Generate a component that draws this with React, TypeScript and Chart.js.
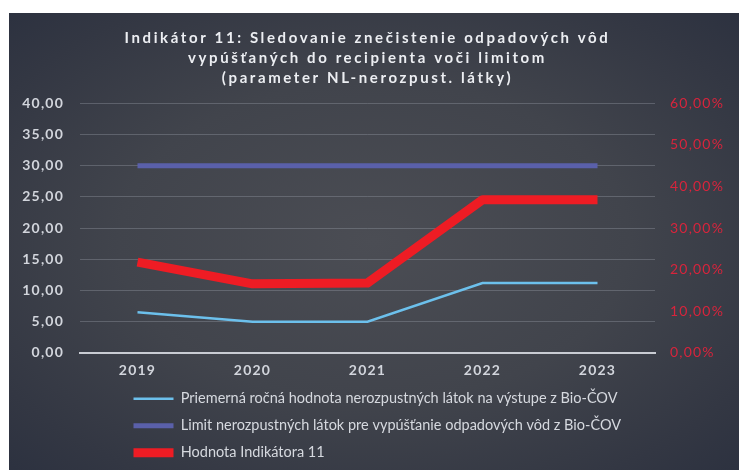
import React, { useEffect, useRef } from "react";
import { Chart, registerables } from "chart.js";

Chart.register(...registerables);

const years = ["2019", "2020", "2021", "2022", "2023"];
const avgValues = [6.5, 5.0, 5.0, 11.2, 11.2];
const limitValues = [30, 30, 30, 30, 30];
const indicatorPct = [21.8, 16.6, 16.8, 36.8, 36.8];

const seriesNames = [
  "Priemerná ročná hodnota nerozpustných látok na výstupe z Bio-ČOV",
  "Limit nerozpustných látok pre vypúšťanie odpadových vôd z Bio-ČOV",
  "Hodnota Indikátora 11",
];
const titleLines = [
  "Indikátor 11: Sledovanie znečistenie odpadových vôd",
  "vypúšťaných do recipienta voči limitom",
  "(parameter NL-nerozpust. látky)",
];

const fmt = (v: number) => v.toFixed(2).replace(".", ",");

const spacingPlugin = {
  id: "spacingPlugin",
  afterLayout(chart: any) {
    if (chart.legend) chart.legend.left = 112;
    if (!chart.$patched) {
      chart.$patched = true;
      const wrap = (box: any, sp: string) => {
        if (!box) return;
        const orig = box.draw.bind(box);
        box.draw = (area: any) => {
          const ctx = chart.ctx;
          const prev = ctx.letterSpacing;
          ctx.letterSpacing = sp;
          orig(area);
          ctx.letterSpacing = prev;
        };
      };
      wrap(chart.titleBlock, "2.6px");
      wrap(chart.legend, "0px");
    }
  },
  beforeDraw(chart: any) {
    chart.ctx.letterSpacing = "1.2px";
  },
  afterDraw(chart: any) {
    chart.ctx.letterSpacing = "0px";
  },
};

export default function App() {
  const ref = useRef<HTMLCanvasElement | null>(null);
  useEffect(() => {
    if (!ref.current) return;
    const chart = new Chart(ref.current, {
      type: "line",
      data: {
        labels: years,
        datasets: [
          {
            label: seriesNames[0],
            data: avgValues,
            borderColor: "#6cc0ec",
            borderWidth: 2.5,
            pointRadius: 0,
            yAxisID: "y",
            order: 1,
          },
          {
            label: seriesNames[1],
            data: limitValues,
            borderColor: "#5a60aa",
            borderWidth: 5,
            pointRadius: 0,
            yAxisID: "y",
            order: 2,
          },
          {
            label: seriesNames[2],
            data: indicatorPct,
            borderColor: "#ee1c24",
            borderWidth: 9,
            borderJoinStyle: "round",
            pointRadius: 0,
            yAxisID: "y1",
            order: 0,
          },
        ],
      },
      options: {
        responsive: false,
        animation: false,
        layout: { padding: 0 },
        plugins: {
          tooltip: { enabled: false },
          title: {
            display: true,
            text: titleLines,
            fullSize: false,
            color: "#eceef2",
            font: { family: "Lato", size: 15, weight: "bold", lineHeight: 1.34 },
            padding: { top: 14.8, bottom: 15.1 },
          },
          legend: {
            display: true,
            position: "bottom",
            align: "start",
            fullSize: false,
            labels: {
              color: "#d6d9df",
              font: { family: "Lato", size: 14.5 },
              padding: 12.5,
              usePointStyle: true,
              pointStyleWidth: 40,
              generateLabels: (c: any) =>
                c.data.datasets.map((ds: any, i: number) => ({
                  text: ds.label,
                  fillStyle: ds.borderColor,
                  strokeStyle: ds.borderColor,
                  lineWidth: ds.borderWidth,
                  pointStyle: "line",
                  fontColor: "#d6d9df",
                  hidden: false,
                  datasetIndex: i,
                })),
            },
          },
        },
        scales: {
          x: {
            offset: true,
            grid: { display: false, drawTicks: false },
            border: { display: true, color: "#c9ccd3", width: 2 },
            ticks: {
              color: "#d2d5dc",
              font: { family: "Lato", size: 14, weight: "bold" },
              padding: 9.5,
            },
            afterFit: (s: any) => {
              s.height = s.height - 9.7;
            },
          },
          y: {
            position: "left",
            min: 0,
            max: 40,
            ticks: {
              stepSize: 5,
              color: "#d2d5dc",
              font: { family: "Lato", size: 14, weight: "bold" },
              padding: 16,
              callback: (v: any) => fmt(Number(v)),
            },
            grid: {
              drawTicks: false,
              color: (ctx: any) =>
                ctx.tick && ctx.tick.value === 0 ? "rgba(0,0,0,0)" : "rgba(150,155,166,0.38)",
              lineWidth: 1,
            },
            border: { display: false },
            afterFit: (s: any) => {
              s.width = 71;
            },
          },
          y1: {
            position: "right",
            min: 0,
            max: 60,
            ticks: {
              stepSize: 10,
              color: "#d8243c",
              font: { family: "Lato", size: 14 },
              padding: 15,
              callback: (v: any) => fmt(Number(v)) + "%",
            },
            grid: { drawOnChartArea: false, drawTicks: false },
            border: { display: false },
            afterFit: (s: any) => {
              s.width = 84;
            },
          },
        },
      },
      plugins: [spacingPlugin],
    } as any);
    return () => chart.destroy();
  }, []);

  return (
    <div
      style={{
        position: "fixed",
        left: 9,
        top: 13,
        width: 730,
        height: 457,
        background:
          "radial-gradient(ellipse 70% 70% at 50% 50%, #4b4d54 0%, #41444c 50%, #333743 85%, #2d3240 100%)",
      }}
    >
      <canvas ref={ref} width={730} height={457} />
    </div>
  );
}
